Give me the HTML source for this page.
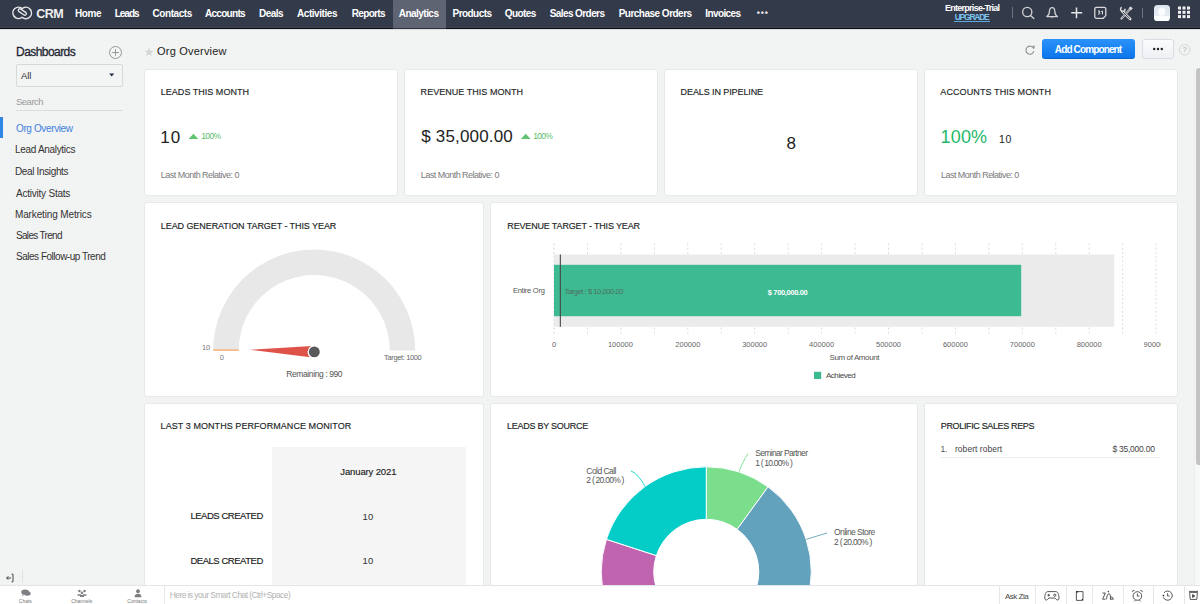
<!DOCTYPE html>
<html><head><meta charset="utf-8"><style>
*{margin:0;padding:0;box-sizing:border-box}
html,body{width:1200px;height:604px;overflow:hidden;font-family:"Liberation Sans",sans-serif}
body{background:conic-gradient(from 90deg at 1px 1px,#f3f4f4 0 270deg,#eeefef 270deg) 0 0/2px 2px}
.a{position:absolute;white-space:nowrap}
.t{position:absolute;white-space:nowrap;font-family:"Liberation Sans",sans-serif}
.card{position:absolute;background:#fff;border:1px solid #e8e9e9;border-radius:3px}
svg{position:absolute;overflow:visible}
</style></head><body>
<div class="a" style="left:0;top:0;width:1200px;height:27px;background:#333a4a"></div>
<div class="a" style="left:0;top:27px;width:1200px;height:1px;background:#3b4353"></div>
<div class="a" style="left:0;top:28px;width:1200px;height:1px;background:#0b0c10"></div>
<div class="a" style="left:0;top:29px;width:1200px;height:1px;background:#dfe1e1"></div>
<div class="a" style="left:393px;top:0;width:53px;height:28px;background:#5e6472"></div><div class="a" style="left:393px;top:28px;width:53px;height:1px;background:#2e333d"></div>
<svg style="left:0;top:0" width="40" height="28" viewBox="0 0 40 28">
<g fill="none" stroke="#e8e8e8" stroke-linecap="round" stroke-width="1.5">
<path d="M22.4 8.6 A5.7 5.7 0 1 0 21.2 17.9"/>
<path d="M22.0 17.2 A5.7 5.7 0 1 0 23.2 7.9"/>
<path d="M18.6 11.4 L24.4 15.2 A1.6 1.6 0 0 0 26.0 12.6 L20.4 8.9 A1.6 1.6 0 0 0 18.6 11.4 Z" stroke-width="1.3"/>
</g></svg>
<div class="a" style="left:1011.5px;top:7px;width:1.2px;height:11px;background:#6c7280"></div>
<div class="a" style="left:1142px;top:8px;width:1.2px;height:10px;background:#6c7280"></div>
<svg style="left:1020px;top:5px" width="16" height="16" viewBox="0 0 16 16">
<g fill="none" stroke="#d2d2d4" stroke-width="1.35"><circle cx="7.25" cy="7" r="4.6"/><path d="M10.5 10.4 L13.8 13.6" stroke-linecap="round"/></g></svg>
<svg style="left:1045px;top:5px" width="16" height="16" viewBox="0 0 16 16">
<g fill="none" stroke="#d2d2d4" stroke-width="1.3" stroke-linejoin="round"><path d="M1.8 11.6 C3.6 10.6 4.4 9.4 4.4 6.6 C4.4 4 5.6 2.6 7.1 2.6 C8.6 2.6 9.8 4 9.8 6.6 C9.8 9.4 10.6 10.6 12.4 11.6 Z"/></g><path d="M6 12.4 L8.2 12.4 L7.1 13.6 Z" fill="#d2d2d4"/></svg>
<svg style="left:1069px;top:5px" width="16" height="16" viewBox="0 0 16 16">
<g stroke="#e6e6e6" stroke-width="1.5"><path d="M7.5 2.4 V13.2 M2.2 7.8 H13.2"/></g></svg>
<svg style="left:1093px;top:5px" width="16" height="16" viewBox="0 0 16 16">
<g fill="none" stroke="#d8d8d8" stroke-width="1.3"><path d="M3.4 2.3 H11.2 A1.6 1.6 0 0 1 12.8 3.9 V10.6 L10.2 13.3 H3.4 A1.6 1.6 0 0 1 1.8 11.7 V3.9 A1.6 1.6 0 0 1 3.4 2.3 Z"/></g>
<g fill="none" stroke="#f4f4f4" stroke-width="0.95"><path d="M5.0 6.1 H6.9 L5.9 7.5 C7.3 7.5 7.3 9.4 5.0 9.1"/><path d="M8.4 6.6 L9.4 6.0 V9.4"/></g></svg>
<svg style="left:1118px;top:5px" width="16" height="16" viewBox="0 0 16 16">
<g fill="none" stroke="#d8d8d8" stroke-linecap="round" stroke-linejoin="round">
<path d="M4.6 6.6 L12.2 14" stroke-width="2.6"/>
<path d="M12.4 3.8 L3.4 13.6" stroke-width="2"/>
<path d="M3.2 2.6 A2.6 2.6 0 0 0 4.6 6.8 A2.6 2.6 0 0 0 7 4.2" stroke-width="1.5"/>
<circle cx="12.6" cy="3.4" r="1.4" fill="#d8d8d8" stroke-width="0.6"/>
</g>
<path d="M4.9 6.9 L11.9 13.7" stroke="#333a4a" stroke-width="0.9"/>
<path d="M12 4.2 L3.8 13.2" stroke="#333a4a" stroke-width="0.6"/>
</svg>
<div class="a" style="left:1154px;top:4.5px;width:15.6px;height:16px;border-radius:3.5px;background:linear-gradient(#dbe5ef,#e6edf4 70%,#fdfdfe 72%);overflow:hidden">
<svg style="left:0;top:0" width="16" height="16" viewBox="0 0 16 16"><g fill="#fbfcfd"><ellipse cx="7.8" cy="6.6" rx="3.6" ry="4.2"/><path d="M0 16 L0 14.6 C2 12.6 4.6 11.6 7.8 11.6 C11 11.6 13.6 12.6 15.6 14.6 L15.6 16 Z"/></g></svg></div>
<svg style="left:0;top:0" width="1200" height="28"><rect x="1178.0" y="6.5" width="3" height="3" fill="#f2f2f2"/><rect x="1178.0" y="10.8" width="3" height="3" fill="#f2f2f2"/><rect x="1178.0" y="15.1" width="3" height="3" fill="#f2f2f2"/><rect x="1182.5" y="6.5" width="3" height="3" fill="#f2f2f2"/><rect x="1182.5" y="10.8" width="3" height="3" fill="#f2f2f2"/><rect x="1182.5" y="15.1" width="3" height="3" fill="#f2f2f2"/><rect x="1187.0" y="6.5" width="3" height="3" fill="#f2f2f2"/><rect x="1187.0" y="10.8" width="3" height="3" fill="#f2f2f2"/><rect x="1187.0" y="15.1" width="3" height="3" fill="#f2f2f2"/></svg>
<div class="a" style="left:954px;top:21px;width:36px;height:1px;background:#5ea9dd"></div>
<svg style="left:108px;top:44.5px" width="16" height="16" viewBox="0 0 16 16">
<g fill="none" stroke="#8a8d92" stroke-width="0.9"><circle cx="7.5" cy="7.5" r="6"/><path d="M7.5 4.2 V10.8 M4.2 7.5 H10.8"/></g></svg>
<div class="a" style="left:16px;top:64px;width:107px;height:23px;border:1px solid #d6d8d9;border-radius:2px;background:#f3f4f4"></div>
<svg style="left:108px;top:72px" width="8" height="6" viewBox="0 0 8 6"><path d="M1.2 1.4 H6.2 L3.7 4.6 Z" fill="#1d2a44"/></svg>
<div class="a" style="left:16px;top:110px;width:107px;height:1px;background:#d9dbdc"></div>
<div class="a" style="left:0;top:117px;width:3px;height:21px;background:#2f86e8"></div>
<svg style="left:144px;top:47px" width="10" height="10" viewBox="0 0 10 10"><path d="M5 0.6 L6.2 3.7 L9.4 3.8 L6.9 5.8 L7.8 9 L5 7.2 L2.2 9 L3.1 5.8 L0.6 3.8 L3.8 3.7 Z" fill="#d3d4d5"/></svg>
<svg style="left:1024px;top:44px" width="12" height="12" viewBox="0 0 12 12">
<g fill="none" stroke="#8d8f92" stroke-width="1.1"><path d="M9.6 4.6 A4 4 0 1 0 9.8 7.2"/></g><path d="M8 1.8 L10.6 1.8 L10.6 4.8 Z" fill="#8d8f92"/></svg>
<div class="a" style="left:1042px;top:39px;width:93px;height:20px;border-radius:3px;background:linear-gradient(#2b92f9,#0c76ec);border-bottom:1px solid #0a63c9"></div>
<div class="a" style="left:1142px;top:39px;width:32px;height:20px;border-radius:3px;border:1px solid #d9dde3;background:linear-gradient(#fbfcfd,#eef1f5)"></div>
<svg style="left:1150px;top:45px" width="16" height="8"><g fill="#222"><circle cx="4.2" cy="4" r="1.2"/><circle cx="8" cy="4" r="1.2"/><circle cx="11.8" cy="4" r="1.2"/></g></svg>
<svg style="left:1178px;top:43px" width="14" height="14" viewBox="0 0 14 14"><circle cx="6.7" cy="6.8" r="5.3" fill="none" stroke="#d0d2d4" stroke-width="0.9"/>
<text x="6.7" y="9.4" font-family="Liberation Sans" font-size="7.5" fill="#a9abae" text-anchor="middle">?</text></svg>
<div class="a" style="left:1194px;top:67px;width:6px;height:518px;background:#f7f8f8;border-left:1px solid #eceeee"></div>
<div class="a" style="left:1196px;top:68px;width:4px;height:397px;background:#c3c3c3;border-radius:3px 0 0 3px"></div>
<svg style="left:4px;top:572px" width="12" height="12" viewBox="0 0 12 12"><g fill="none" stroke="#333" stroke-width="0.9"><path d="M2.6 6 H7 M4.4 4.2 L2.6 6 L4.4 7.8 M7.6 2.2 H9 V9.8 H7.6"/></g></svg>
<div class="a" style="left:22px;top:570px;width:1px;height:13px;background:#e2e4e4"></div>
<div class="card" style="left:144px;top:69px;width:254px;height:127px"></div>
<div class="card" style="left:404px;top:69px;width:254px;height:127px"></div>
<div class="card" style="left:664px;top:69px;width:254px;height:127px"></div>
<div class="card" style="left:924px;top:69px;width:254px;height:127px"></div>
<div class="card" style="left:144px;top:202px;width:340px;height:195px"></div>
<div class="card" style="left:490px;top:202px;width:688px;height:195px"></div>
<div class="card" style="left:144px;top:403px;width:340px;height:200px"></div>
<div class="card" style="left:490px;top:403px;width:428px;height:200px"></div>
<div class="card" style="left:924px;top:403px;width:254px;height:200px"></div>
<svg style="left:0;top:0" width="1200" height="604"><path d="M213.2 350.5 A101 101 0 0 1 415.2 350.5 L389.7 350.5 A75.5 75.5 0 0 0 238.7 350.5 Z" fill="#e8e8e8"/><rect x="213.2" y="349.5" width="25.5" height="1.2" fill="#f3a35a"/><path d="M249.5 349.8 L312.5 345.9 L312.5 357.4 Z" fill="#df5247"/><circle cx="314.3" cy="351.9" r="6.1" fill="#59595b" stroke="#fff" stroke-width="1.3"/></svg>
<svg style="left:0;top:0" width="1200" height="604"><line x1="554.0" y1="243.5" x2="554.0" y2="335" stroke="#c6d4e2" stroke-width="1" stroke-dasharray="2 2.2"/><line x1="587.5" y1="243.5" x2="587.5" y2="335" stroke="#dcdcdc" stroke-width="1" stroke-dasharray="2 2.2"/><line x1="620.9" y1="243.5" x2="620.9" y2="335" stroke="#dcdcdc" stroke-width="1" stroke-dasharray="2 2.2"/><line x1="654.4" y1="243.5" x2="654.4" y2="335" stroke="#dcdcdc" stroke-width="1" stroke-dasharray="2 2.2"/><line x1="687.8" y1="243.5" x2="687.8" y2="335" stroke="#dcdcdc" stroke-width="1" stroke-dasharray="2 2.2"/><line x1="721.2" y1="243.5" x2="721.2" y2="335" stroke="#dcdcdc" stroke-width="1" stroke-dasharray="2 2.2"/><line x1="754.7" y1="243.5" x2="754.7" y2="335" stroke="#dcdcdc" stroke-width="1" stroke-dasharray="2 2.2"/><line x1="788.2" y1="243.5" x2="788.2" y2="335" stroke="#dcdcdc" stroke-width="1" stroke-dasharray="2 2.2"/><line x1="821.6" y1="243.5" x2="821.6" y2="335" stroke="#dcdcdc" stroke-width="1" stroke-dasharray="2 2.2"/><line x1="855.0" y1="243.5" x2="855.0" y2="335" stroke="#dcdcdc" stroke-width="1" stroke-dasharray="2 2.2"/><line x1="888.5" y1="243.5" x2="888.5" y2="335" stroke="#dcdcdc" stroke-width="1" stroke-dasharray="2 2.2"/><line x1="922.0" y1="243.5" x2="922.0" y2="335" stroke="#dcdcdc" stroke-width="1" stroke-dasharray="2 2.2"/><line x1="955.4" y1="243.5" x2="955.4" y2="335" stroke="#dcdcdc" stroke-width="1" stroke-dasharray="2 2.2"/><line x1="988.9" y1="243.5" x2="988.9" y2="335" stroke="#dcdcdc" stroke-width="1" stroke-dasharray="2 2.2"/><line x1="1022.3" y1="243.5" x2="1022.3" y2="335" stroke="#dcdcdc" stroke-width="1" stroke-dasharray="2 2.2"/><line x1="1055.8" y1="243.5" x2="1055.8" y2="335" stroke="#dcdcdc" stroke-width="1" stroke-dasharray="2 2.2"/><line x1="1089.2" y1="243.5" x2="1089.2" y2="335" stroke="#dcdcdc" stroke-width="1" stroke-dasharray="2 2.2"/><line x1="1122.7" y1="243.5" x2="1122.7" y2="335" stroke="#dcdcdc" stroke-width="1" stroke-dasharray="2 2.2"/><line x1="1156.1" y1="243.5" x2="1156.1" y2="335" stroke="#dcdcdc" stroke-width="1" stroke-dasharray="2 2.2"/><rect x="554.0" y="254.5" width="560.2" height="72.3" fill="#ebebeb"/><rect x="554.0" y="264.8" width="467.20000000000005" height="51.4" fill="#3dba91"/><rect x="559.8" y="254.5" width="1.1" height="72.3" fill="#474747"/><rect x="814" y="371.8" width="7.2" height="7.2" fill="#3dba91"/></svg>
<div class="a" style="left:272px;top:447px;width:194px;height:138px;background:conic-gradient(from 90deg at 1px 1px,#f7f7f7 0 270deg,#f1f1f1 270deg) 0 0/2px 2px"></div>
<div class="a" style="left:0;top:0;width:1200px;height:585px;overflow:hidden;pointer-events:none"><svg style="left:0;top:0" width="1200" height="604"><path d="M706.30 466.80 A105 105 0 0 1 768.02 486.85 L737.16 529.33 A52.5 52.5 0 0 0 706.30 519.30 Z" fill="#7ade8c" stroke="#fff" stroke-width="1"/><path d="M768.02 486.85 A105 105 0 0 1 806.16 604.25 L756.23 588.02 A52.5 52.5 0 0 0 737.16 529.33 Z" fill="#62a2bd" stroke="#fff" stroke-width="1"/><path d="M806.16 604.25 A105 105 0 0 1 606.44 604.25 L656.37 588.02 A52.5 52.5 0 0 0 756.23 588.02 Z" fill="#b8b8b8" stroke="#fff" stroke-width="1"/><path d="M606.44 604.25 A105 105 0 0 1 606.44 539.35 L656.37 555.58 A52.5 52.5 0 0 0 656.37 588.02 Z" fill="#c064b0" stroke="#fff" stroke-width="1"/><path d="M606.44 539.35 A105 105 0 0 1 706.30 466.80 L706.30 519.30 A52.5 52.5 0 0 0 656.37 555.58 Z" fill="#04cdc8" stroke="#fff" stroke-width="1"/><path d="M739 471.5 C741 466 745 458 748 453.5" fill="none" stroke="#7ade8c" stroke-width="0.9"/><path d="M631 471 C636 473 640 478 645.3 486.5" fill="none" stroke="#04cdc8" stroke-width="0.9"/><path d="M806.3 539.3 L827 533" fill="none" stroke="#62a2bd" stroke-width="0.9"/></svg></div>
<div class="a" style="left:940px;top:457px;width:221px;height:1px;background:#efefef"></div>
<svg style="left:0;top:0" width="1200" height="604"><path d="M188.6 139.1 L198.29999999999998 139.1 L193.45 133.7 Z" fill="#5fc46f"/><path d="M520.9 139.1 L530.6 139.1 L525.75 133.7 Z" fill="#5fc46f"/></svg>
<div class="a" style="left:0;top:585px;width:1200px;height:19px;background:#fff;border-top:1px solid #e3e5e6"></div>
<div class="a" style="left:164px;top:586px;width:1px;height:18px;background:#e6e8e8"></div>
<div class="a" style="left:999px;top:586px;width:1px;height:18px;background:#e6e8e8"></div>
<div class="a" style="left:1035px;top:586px;width:1px;height:18px;background:#e6e8e8"></div>
<div class="a" style="left:1066px;top:586px;width:1px;height:18px;background:#e6e8e8"></div>
<div class="a" style="left:1092px;top:586px;width:1px;height:18px;background:#e6e8e8"></div>
<div class="a" style="left:1122.5px;top:586px;width:1px;height:18px;background:#e6e8e8"></div>
<div class="a" style="left:1153px;top:586px;width:1px;height:18px;background:#e6e8e8"></div>
<div class="a" style="left:1184px;top:586px;width:1px;height:18px;background:#e6e8e8"></div>
<svg style="left:20px;top:589px" width="12" height="8.6" viewBox="0 0 14 10"><g fill="#7d7f83"><ellipse cx="6" cy="3.6" rx="4.6" ry="3"/><ellipse cx="8.6" cy="5.2" rx="3.8" ry="2.6"/><path d="M3 6 L2.2 8.4 L5 6.6 Z"/></g></svg>
<svg style="left:76px;top:589px" width="12" height="8.6" viewBox="0 0 14 10"><g fill="#7d7f83"><circle cx="4" cy="2.4" r="1.5"/><circle cx="10" cy="2.4" r="1.5"/><circle cx="7" cy="4.4" r="1.5"/><path d="M1.8 6 H6 V8 H1.8 Z M8 6 H12.2 V8 H8 Z M4.6 7 H9.4 V9.4 H4.6 Z"/></g></svg>
<svg style="left:131.5px;top:589px" width="12" height="8.6" viewBox="0 0 14 10"><g fill="#7d7f83"><circle cx="7" cy="2.6" r="2.2"/><path d="M3 9.6 C3 6.2 4.8 5.4 7 5.4 C9.2 5.4 11 6.2 11 9.6 Z"/></g></svg>
<svg style="left:1043px;top:589px" width="18" height="13" viewBox="0 0 18 13"><g fill="none" stroke="#444" stroke-width="0.9"><path d="M4.6 2.6 H12.8 C15 2.6 16 6 16 9 C16 11.2 14.4 11.6 13.2 10.4 L11.8 9 H6 L4.6 10.4 C3.4 11.6 1.8 11.2 1.8 9 C1.8 6 2.6 2.6 4.6 2.6 Z"/><path d="M4.4 6.2 H7 M5.7 4.9 V7.5"/><circle cx="11.8" cy="6.2" r="1.1"/></g></svg>
<svg style="left:1074px;top:590px" width="12" height="12" viewBox="0 0 12 12"><g fill="none" stroke="#444" stroke-width="0.9"><path d="M2.4 1.6 H9 V8.8 L7.4 10.4 H2.4 Z"/></g><circle cx="3" cy="1.8" r="0.9" fill="#222"/><circle cx="8.6" cy="9.8" r="0.9" fill="#222"/></svg>
<svg style="left:1101px;top:590px" width="14" height="12" viewBox="0 0 14 12"><g fill="none" stroke="#444" stroke-width="0.9"><path d="M1.6 3 H4.4 L1.6 9.2 H4.6"/><path d="M5.6 9.2 C5.6 6 7 3.6 8 3.6 C9 3.6 9.6 6 9.6 9.2"/><path d="M9.2 9.2 C9.6 6.6 11 5.6 12.4 9.2 Z"/></g><circle cx="7.4" cy="1.6" r="0.8" fill="#444"/></svg>
<svg style="left:1131px;top:589px" width="13" height="13" viewBox="0 0 13 13"><g fill="none" stroke="#444" stroke-width="0.9"><circle cx="6.4" cy="7" r="4.3"/><path d="M6.4 4.6 V7.2 H8.4"/><path d="M4.2 11.2 L3.2 12.4 M8.6 11.2 L9.6 12.4"/></g><path d="M1 3.2 A2.2 2.2 0 0 1 3.8 1.2 Z M11.8 3.2 A2.2 2.2 0 0 0 9 1.2 Z" fill="#333"/></svg>
<svg style="left:1161px;top:589px" width="13" height="13" viewBox="0 0 13 13"><g fill="none" stroke="#444" stroke-width="0.9"><path d="M2.4 8.4 A4.6 4.6 0 1 0 3 3.8"/><path d="M6.6 4.2 V7 H8.6"/></g><circle cx="2.4" cy="6.6" r="0.9" fill="#333"/></svg>
<svg style="left:1188px;top:589px" width="12" height="13" viewBox="0 0 12 13"><g fill="none" stroke="#444" stroke-width="0.9"><path d="M1.6 3.4 H9.4 L8.8 10.4 H2.2 Z"/><path d="M1 2.4 H10"/><path d="M4.6 5.6 L6.8 7 L4.6 8.4 Z" fill="#444"/></g></svg>
<div class="t" style="left:36.30px;top:8px;font-size:12.5px;line-height:12.5px;font-weight:700;color:#f0f0f0;letter-spacing:-0.5px">CRM</div>
<div class="t" style="left:75.00px;top:9px;font-size:10px;line-height:10px;font-weight:700;color:#ffffff;letter-spacing:-0.433px">Home</div>
<div class="t" style="left:114.70px;top:9px;font-size:10px;line-height:10px;font-weight:700;color:#ffffff;letter-spacing:-1.0px">Leads</div>
<div class="t" style="left:152.50px;top:9px;font-size:10px;line-height:10px;font-weight:700;color:#ffffff;letter-spacing:-0.429px">Contacts</div>
<div class="t" style="left:205.00px;top:9px;font-size:10px;line-height:10px;font-weight:700;color:#ffffff;letter-spacing:-0.714px">Accounts</div>
<div class="t" style="left:259.00px;top:9px;font-size:10px;line-height:10px;font-weight:700;color:#ffffff;letter-spacing:-0.5px">Deals</div>
<div class="t" style="left:297.00px;top:9px;font-size:10px;line-height:10px;font-weight:700;color:#ffffff;letter-spacing:-0.444px">Activities</div>
<div class="t" style="left:351.70px;top:9px;font-size:10px;line-height:10px;font-weight:700;color:#ffffff;letter-spacing:-0.65px">Reports</div>
<div class="t" style="left:398.80px;top:9px;font-size:10px;line-height:10px;font-weight:700;color:#ffffff;letter-spacing:-0.538px">Analytics</div>
<div class="t" style="left:452.50px;top:9px;font-size:10px;line-height:10px;font-weight:700;color:#ffffff;letter-spacing:-0.543px">Products</div>
<div class="t" style="left:504.70px;top:9px;font-size:10px;line-height:10px;font-weight:700;color:#ffffff;letter-spacing:-0.54px">Quotes</div>
<div class="t" style="left:549.70px;top:9px;font-size:10px;line-height:10px;font-weight:700;color:#ffffff;letter-spacing:-0.582px">Sales Orders</div>
<div class="t" style="left:618.70px;top:9px;font-size:10px;line-height:10px;font-weight:700;color:#ffffff;letter-spacing:-0.514px">Purchase Orders</div>
<div class="t" style="left:705.30px;top:9px;font-size:10px;line-height:10px;font-weight:700;color:#ffffff;letter-spacing:-0.614px">Invoices</div>
<div class="t" style="left:756.70px;top:9px;font-size:9px;line-height:9px;font-weight:700;color:#e8e8e8;letter-spacing:0.9px">•••</div>
<div class="t" style="left:945.00px;top:4px;font-size:9px;line-height:9px;font-weight:700;color:#ffffff;letter-spacing:-0.733px">Enterprise-Trial</div>
<div class="t" style="left:954.70px;top:13px;font-size:8.5px;line-height:8.5px;font-weight:700;color:#7cc4f0;letter-spacing:-1.233px">UPGRADE</div>
<div class="t" style="left:16.10px;top:46px;font-size:12px;line-height:12px;font-weight:400;-webkit-text-stroke:0.3px currentColor;color:#1f2633;letter-spacing:-0.567px">Dashboards</div>
<div class="t" style="left:157.00px;top:46px;font-size:11px;line-height:11px;font-weight:400;color:#222;letter-spacing:0.209px">Org Overview</div>
<div class="t" style="left:1054.80px;top:45px;font-size:10px;line-height:10px;font-weight:700;color:#ffffff;letter-spacing:-0.867px">Add Component</div>
<div class="t" style="left:20.90px;top:71px;font-size:9.5px;line-height:9.5px;font-weight:400;color:#333">All</div>
<div class="t" style="left:16.00px;top:97px;font-size:9.5px;line-height:9.5px;font-weight:400;color:#9a9a9a;letter-spacing:-0.5px">Search</div>
<div class="t" style="left:16.00px;top:124px;font-size:10px;line-height:10px;font-weight:400;color:#3e7fdc;letter-spacing:-0.373px">Org Overview</div>
<div class="t" style="left:15.00px;top:145px;font-size:10px;line-height:10px;font-weight:400;color:#333;letter-spacing:-0.315px">Lead Analytics</div>
<div class="t" style="left:15.00px;top:167px;font-size:10px;line-height:10px;font-weight:400;color:#333;letter-spacing:-0.358px">Deal Insights</div>
<div class="t" style="left:16.00px;top:189px;font-size:10px;line-height:10px;font-weight:400;color:#333;letter-spacing:-0.223px">Activity Stats</div>
<div class="t" style="left:15.00px;top:210px;font-size:10px;line-height:10px;font-weight:400;color:#333;letter-spacing:-0.138px">Marketing Metrics</div>
<div class="t" style="left:16.00px;top:231px;font-size:10px;line-height:10px;font-weight:400;color:#333;letter-spacing:-0.68px">Sales Trend</div>
<div class="t" style="left:16.00px;top:252px;font-size:10px;line-height:10px;font-weight:400;color:#333;letter-spacing:-0.485px">Sales Follow-up Trend</div>
<div class="t" style="left:160.80px;top:88px;font-size:9px;line-height:9px;font-weight:400;-webkit-text-stroke:0.15px currentColor;color:#1c1f26;letter-spacing:0.02px">LEADS THIS MONTH</div>
<div class="t" style="left:160.30px;top:129px;font-size:17px;line-height:17px;font-weight:400;color:#222;letter-spacing:1.1px">10</div>
<div class="t" style="left:201.30px;top:132px;font-size:8.5px;line-height:8.5px;font-weight:400;color:#5bbd6b;letter-spacing:-0.667px">100%</div>
<div class="t" style="left:160.80px;top:171px;font-size:9px;line-height:9px;font-weight:400;color:#7a7a7a;letter-spacing:-0.519px">Last Month Relative: 0</div>
<div class="t" style="left:420.60px;top:88px;font-size:9px;line-height:9px;font-weight:400;-webkit-text-stroke:0.15px currentColor;color:#1c1f26;letter-spacing:0.035px">REVENUE THIS MONTH</div>
<div class="t" style="left:421.30px;top:128px;font-size:17px;line-height:17px;font-weight:400;color:#222;letter-spacing:0.17px">$ 35,000.00</div>
<div class="t" style="left:533.30px;top:132px;font-size:8.5px;line-height:8.5px;font-weight:400;color:#5bbd6b;letter-spacing:-0.767px">100%</div>
<div class="t" style="left:420.80px;top:171px;font-size:9px;line-height:9px;font-weight:400;color:#7a7a7a;letter-spacing:-0.519px">Last Month Relative: 0</div>
<div class="t" style="left:680.60px;top:88px;font-size:9px;line-height:9px;font-weight:400;-webkit-text-stroke:0.15px currentColor;color:#1c1f26;letter-spacing:-0.094px">DEALS IN PIPELINE</div>
<div class="t" style="left:786.60px;top:135px;font-size:17px;line-height:17px;font-weight:400;color:#222">8</div>
<div class="t" style="left:940.30px;top:88px;font-size:9px;line-height:9px;font-weight:400;-webkit-text-stroke:0.15px currentColor;color:#1c1f26;letter-spacing:0.1px">ACCOUNTS THIS MONTH</div>
<div class="t" style="left:940.60px;top:128px;font-size:18px;line-height:18px;font-weight:400;color:#1db86a;letter-spacing:0.133px">100%</div>
<div class="t" style="left:998.90px;top:134px;font-size:10.5px;line-height:10.5px;font-weight:400;color:#222;letter-spacing:0.8px">10</div>
<div class="t" style="left:941.00px;top:171px;font-size:9px;line-height:9px;font-weight:400;color:#7a7a7a;letter-spacing:-0.533px">Last Month Relative: 0</div>
<div class="t" style="left:160.80px;top:222px;font-size:9px;line-height:9px;font-weight:400;-webkit-text-stroke:0.15px currentColor;color:#1c1f26;letter-spacing:-0.076px">LEAD GENERATION TARGET - THIS YEAR</div>
<div class="t" style="left:201.90px;top:344px;font-size:7.5px;line-height:7.5px;font-weight:400;color:#777">10</div>
<div class="t" style="left:219.80px;top:354px;font-size:7.5px;line-height:7.5px;font-weight:400;color:#777">0</div>
<div class="t" style="left:384.10px;top:354px;font-size:7.5px;line-height:7.5px;font-weight:400;color:#666;letter-spacing:-0.364px">Target: 1000</div>
<div class="t" style="left:286.30px;top:370px;font-size:8.5px;line-height:8.5px;font-weight:400;color:#555;letter-spacing:-0.4px">Remaining : 990</div>
<div class="t" style="left:507.30px;top:222px;font-size:9px;line-height:9px;font-weight:400;-webkit-text-stroke:0.15px currentColor;color:#1c1f26;letter-spacing:-0.16px">REVENUE TARGET - THIS YEAR</div>
<div class="t" style="left:512.90px;top:287px;font-size:7.5px;line-height:7.5px;font-weight:400;color:#555;letter-spacing:-0.244px">Entire Org</div>
<div class="t" style="left:564.60px;top:288px;font-size:7.5px;line-height:7.5px;font-weight:400;color:#4f6e63;letter-spacing:-0.416px">Target : $ 10,000.00</div>
<div class="t" style="left:767.80px;top:289px;font-size:7.5px;line-height:7.5px;font-weight:700;color:#ffffff;letter-spacing:-0.345px">$ 700,000.00</div>
<div class="t" style="left:829.50px;top:354px;font-size:8px;line-height:8px;font-weight:400;color:#555;letter-spacing:-0.392px">Sum of Amount</div>
<div class="t" style="left:825.90px;top:372px;font-size:8px;line-height:8px;font-weight:400;color:#444;letter-spacing:-0.429px">Achieved</div>
<div class="t" style="left:160.60px;top:422px;font-size:9px;line-height:9px;font-weight:400;-webkit-text-stroke:0.15px currentColor;color:#1c1f26;letter-spacing:0.063px">LAST 3 MONTHS PERFORMANCE MONITOR</div>
<div class="t" style="left:340.30px;top:467px;font-size:9.5px;line-height:9.5px;font-weight:400;-webkit-text-stroke:0.15px currentColor;color:#222;letter-spacing:-0.127px">January 2021</div>
<div class="t" style="left:190.40px;top:511px;font-size:9.5px;line-height:9.5px;font-weight:400;-webkit-text-stroke:0.15px currentColor;color:#1a1a1a;letter-spacing:-0.467px">LEADS CREATED</div>
<div class="t" style="left:362.60px;top:512px;font-size:9.5px;line-height:9.5px;font-weight:400;color:#333">10</div>
<div class="t" style="left:190.40px;top:556px;font-size:9.5px;line-height:9.5px;font-weight:400;-webkit-text-stroke:0.15px currentColor;color:#1a1a1a;letter-spacing:-0.467px">DEALS CREATED</div>
<div class="t" style="left:362.60px;top:556px;font-size:9.5px;line-height:9.5px;font-weight:400;color:#333">10</div>
<div class="t" style="left:507.00px;top:422px;font-size:9px;line-height:9px;font-weight:400;-webkit-text-stroke:0.15px currentColor;color:#1c1f26;letter-spacing:-0.25px">LEADS BY SOURCE</div>
<div class="t" style="left:755.20px;top:449px;font-size:8.5px;line-height:8.5px;font-weight:400;color:#555;letter-spacing:-0.65px">Seminar Partner</div>
<div class="t" style="left:755.20px;top:459px;font-size:8.5px;line-height:8.5px;font-weight:400;color:#555;letter-spacing:-0.791px">1 ( 10.00% )</div>
<div class="t" style="left:586.30px;top:467px;font-size:8.5px;line-height:8.5px;font-weight:400;color:#555;letter-spacing:-0.537px">Cold Call</div>
<div class="t" style="left:586.30px;top:476px;font-size:8.5px;line-height:8.5px;font-weight:400;color:#555;letter-spacing:-0.745px">2 ( 20.00% )</div>
<div class="t" style="left:834.00px;top:528px;font-size:8.5px;line-height:8.5px;font-weight:400;color:#555;letter-spacing:-0.545px">Online Store</div>
<div class="t" style="left:834.00px;top:538px;font-size:8.5px;line-height:8.5px;font-weight:400;color:#555;letter-spacing:-0.727px">2 ( 20.00% )</div>
<div class="t" style="left:940.80px;top:422px;font-size:9px;line-height:9px;font-weight:400;-webkit-text-stroke:0.15px currentColor;color:#1c1f26;letter-spacing:-0.35px">PROLIFIC SALES REPS</div>
<div class="t" style="left:940.40px;top:445px;font-size:8.5px;line-height:8.5px;font-weight:400;color:#555">1.</div>
<div class="t" style="left:955.00px;top:445px;font-size:8.5px;line-height:8.5px;font-weight:400;color:#444;letter-spacing:0.033px">robert robert</div>
<div class="t" style="left:1112.40px;top:445px;font-size:8.5px;line-height:8.5px;font-weight:400;color:#444;letter-spacing:-0.24px">$ 35,000.00</div>
<div class="t" style="left:169.70px;top:591px;font-size:8.5px;line-height:8.5px;font-weight:400;color:#b3b3b3;letter-spacing:-0.583px">Here is your Smart Chat (Ctrl+Space)</div>
<div class="t" style="left:1005.00px;top:593px;font-size:8px;line-height:8px;font-weight:400;color:#444;letter-spacing:-0.5px">Ask Zia</div>
<div class="t" style="left:18.80px;top:599px;font-size:5px;line-height:5px;font-weight:400;color:#777">Chats</div>
<div class="t" style="left:71.20px;top:599px;font-size:5px;line-height:5px;font-weight:400;color:#777">Channels</div>
<div class="t" style="left:127.30px;top:599px;font-size:5px;line-height:5px;font-weight:400;color:#777">Contacts</div>
<div class="t" style="left:552.00px;top:341px;font-size:7.5px;line-height:7.5px;font-weight:400;color:#666">0</div>
<div class="t" style="left:607.90px;top:341px;font-size:7.5px;line-height:7.5px;font-weight:400;color:#666">100000</div>
<div class="t" style="left:675.30px;top:341px;font-size:7.5px;line-height:7.5px;font-weight:400;color:#666">200000</div>
<div class="t" style="left:742.20px;top:341px;font-size:7.5px;line-height:7.5px;font-weight:400;color:#666">300000</div>
<div class="t" style="left:809.10px;top:341px;font-size:7.5px;line-height:7.5px;font-weight:400;color:#666">400000</div>
<div class="t" style="left:876.00px;top:341px;font-size:7.5px;line-height:7.5px;font-weight:400;color:#666">500000</div>
<div class="t" style="left:942.90px;top:341px;font-size:7.5px;line-height:7.5px;font-weight:400;color:#666">600000</div>
<div class="t" style="left:1009.80px;top:341px;font-size:7.5px;line-height:7.5px;font-weight:400;color:#666">700000</div>
<div class="t" style="left:1076.70px;top:341px;font-size:7.5px;line-height:7.5px;font-weight:400;color:#666">800000</div>
<div class="t" style="left:1143.60px;top:341px;font-size:7.5px;line-height:7.5px;font-weight:400;color:#666;width:17.9px;overflow:hidden">900000</div>
</body></html>
